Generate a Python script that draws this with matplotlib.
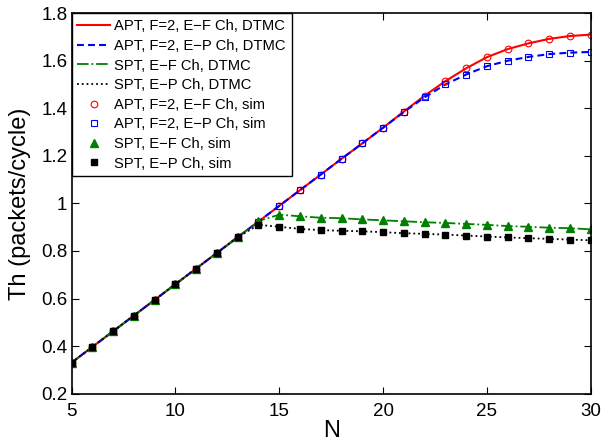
import matplotlib
matplotlib.use('Agg')
import matplotlib.pyplot as plt

# data
N = list(range(5, 31))
apt_ef = [0.330, 0.396, 0.462, 0.528, 0.594, 0.660, 0.726, 0.792, 0.858, 0.924,
          0.990, 1.056, 1.122, 1.188, 1.253, 1.319, 1.387, 1.454, 1.515, 1.569,
          1.616, 1.650, 1.674, 1.693, 1.705, 1.711]
apt_ep = [0.330, 0.396, 0.462, 0.528, 0.594, 0.660, 0.726, 0.792, 0.858, 0.924,
          0.990, 1.056, 1.122, 1.188, 1.253, 1.319, 1.385, 1.447, 1.501, 1.543,
          1.578, 1.601, 1.617, 1.629, 1.635, 1.638]
spt_ef = [0.330, 0.396, 0.462, 0.528, 0.594, 0.660, 0.726, 0.792, 0.858, 0.926,
          0.953, 0.946, 0.940, 0.938, 0.933, 0.929, 0.925, 0.921, 0.918, 0.914,
          0.910, 0.905, 0.902, 0.898, 0.896, 0.891]
spt_ep = [0.330, 0.396, 0.462, 0.528, 0.594, 0.660, 0.726, 0.792, 0.858, 0.910,
          0.902, 0.893, 0.888, 0.885, 0.883, 0.879, 0.875, 0.872, 0.869, 0.865,
          0.861, 0.857, 0.854, 0.851, 0.848, 0.845]

labels = ['APT, F=2, E\u2212F Ch, DTMC', 'APT, F=2, E\u2212P Ch, DTMC',
          'SPT, E\u2212F Ch, DTMC', 'SPT, E\u2212P Ch, DTMC',
          'APT, F=2, E\u2212F Ch, sim', 'APT, F=2, E\u2212P Ch, sim',
          'SPT, E\u2212F Ch, sim', 'SPT, E\u2212P Ch, sim']

plt.rcParams['font.family'] = ['Liberation Sans', 'DejaVu Sans']
green = '#008000'

fig = plt.figure(figsize=(6.01, 4.44), dpi=100)
ax = fig.add_axes([0.119, 0.1137, 0.864, 0.856])

# DTMC curves
ax.plot(N, apt_ef, '-', color='r', lw=1.5, label=labels[0])
ax.plot(N, apt_ep, '--', color='b', lw=1.5, dashes=(3.3, 2), label=labels[1])
ax.plot(N, spt_ef, '-.', color=green, lw=1.3, label=labels[2])
ax.plot(N, spt_ep, ':', color='k', lw=1.3, label=labels[3])

# simulation points
ax.plot(N, apt_ef, 'o', mfc='none', mec='r', ms=4.8, mew=0.8, label=labels[4])
ax.plot(N, apt_ep, 's', mfc='none', mec='b', ms=4.2, mew=0.8, label=labels[5])
ax.plot(N, spt_ef, '^', color=green, ms=5.5, label=labels[6])
ax.plot(N, spt_ep, 's', color='k', ms=4.6, label=labels[7])

ax.set_xlim(5, 30)
ax.set_ylim(0.2, 1.8)
ax.set_xticks([5, 10, 15, 20, 25, 30])
ax.set_yticks([0.2, 0.4, 0.6, 0.8, 1.0, 1.2, 1.4, 1.6, 1.8])
ax.set_yticklabels(['0.2', '0.4', '0.6', '0.8', '1', '1.2', '1.4', '1.6', '1.8'])
ax.tick_params(direction='in', top=True, right=True, length=5, width=0.8,
               labelsize=13.5)
ax.tick_params(axis='x', pad=7)
ax.tick_params(axis='y', pad=3)
for s in ax.spines.values():
    s.set_linewidth(1.2)

ax.set_xlabel('N', fontsize=17, labelpad=0)
ax.set_ylabel('Th (packets/cycle)', fontsize=17, labelpad=7)

leg = ax.legend(loc='upper left', fontsize=10.6, borderaxespad=0, frameon=True,
                fancybox=False, edgecolor='k', framealpha=1,
                handlelength=2.2, handletextpad=0.3, labelspacing=0.38,
                borderpad=0.4)
leg.get_frame().set_linewidth(1.0)

fig.savefig('out.png', dpi=100)
